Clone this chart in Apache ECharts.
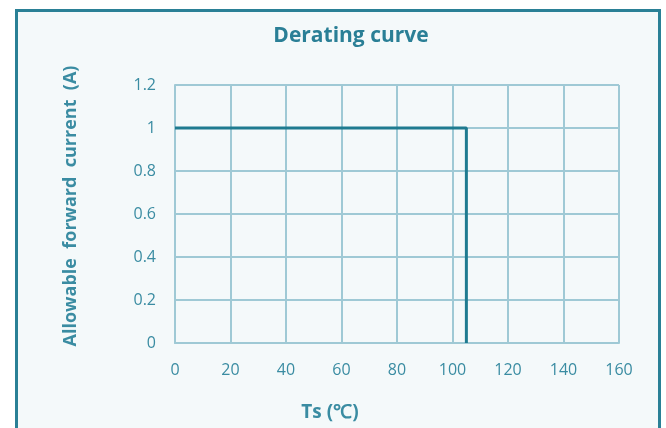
<!DOCTYPE html>
<html><head><meta charset="utf-8">
<script src="https://cdn.jsdelivr.net/npm/echarts@6/dist/echarts.min.js"></script>
<style>
html,body{margin:0;padding:0;background:#ffffff;}
#frame{position:absolute;left:15px;top:9px;width:640px;height:430px;border:3px solid #2a8096;border-bottom:none;background:#f4f9fa;}
#c{position:absolute;left:0;top:0;width:666px;height:428px;}
</style></head>
<body>
<div id="frame"></div>
<div id="c"></div>
<script>
const titleText = 'Derating curve';
const xName = 'Ts (℃)';
const yName = 'Allowable  forward  current  (A)';
const tempC = [0, 105, 105];
const currentA = [1, 1, 0];
const xTicks = {min: 0, max: 160, interval: 20};
const yTicks = {min: 0, max: 1.2, interval: 0.2};

const chart = echarts.init(document.getElementById('c'), null, {renderer: 'canvas'});
const textColor = '#3a8ca2';
const gridColor = '#9fc9d5';
const font = '"Open Sans", Lato, sans-serif';
chart.setOption({
  backgroundColor: 'transparent',
  animation: false,
  title: {
    text: titleText, left: 346, top: 21, textAlign: 'center',
    textStyle: {color: '#2a7f96', fontSize: 21, fontWeight: 'bold', fontFamily: font}
  },
  grid: {left: 175, right: 47, top: 85, bottom: 85},
  xAxis: {
    type: 'value', min: xTicks.min, max: xTicks.max, interval: xTicks.interval,
    name: xName, nameLocation: 'middle', nameGap: 60,
    nameTextStyle: {color: '#3a8ca2', fontSize: 19, fontWeight: 'bold', fontFamily: font, padding: [0, 0, 0, -134]},
    axisLine: {show: true, lineStyle: {color: gridColor, width: 2}},
    axisTick: {show: false},
    axisLabel: {color: textColor, fontSize: 16, fontFamily: font, margin: 19},
    splitLine: {show: true, lineStyle: {color: gridColor, width: 2}}
  },
  yAxis: {
    type: 'value', min: yTicks.min, max: yTicks.max, interval: yTicks.interval,
    name: yName, nameLocation: 'middle', nameGap: 95, nameRotate: 90,
    nameTextStyle: {color: '#3a8ca2', fontSize: 18, fontWeight: 'bold', fontFamily: font, padding: [0, 0, 0, 16]},
    axisLine: {show: true, lineStyle: {color: gridColor, width: 2}},
    axisTick: {show: false},
    axisLabel: {color: textColor, fontSize: 16, fontFamily: font, margin: 19,
      formatter: v => String(Math.round(v * 10) / 10)},
    splitLine: {show: true, lineStyle: {color: gridColor, width: 2}}
  },
  series: [{
    type: 'line',
    data: tempC.map((x, i) => [x, currentA[i]]),
    symbol: 'none',
    lineStyle: {color: '#1f7b90', width: 3},
    z: 5
  }]
});
</script>
</body></html>
